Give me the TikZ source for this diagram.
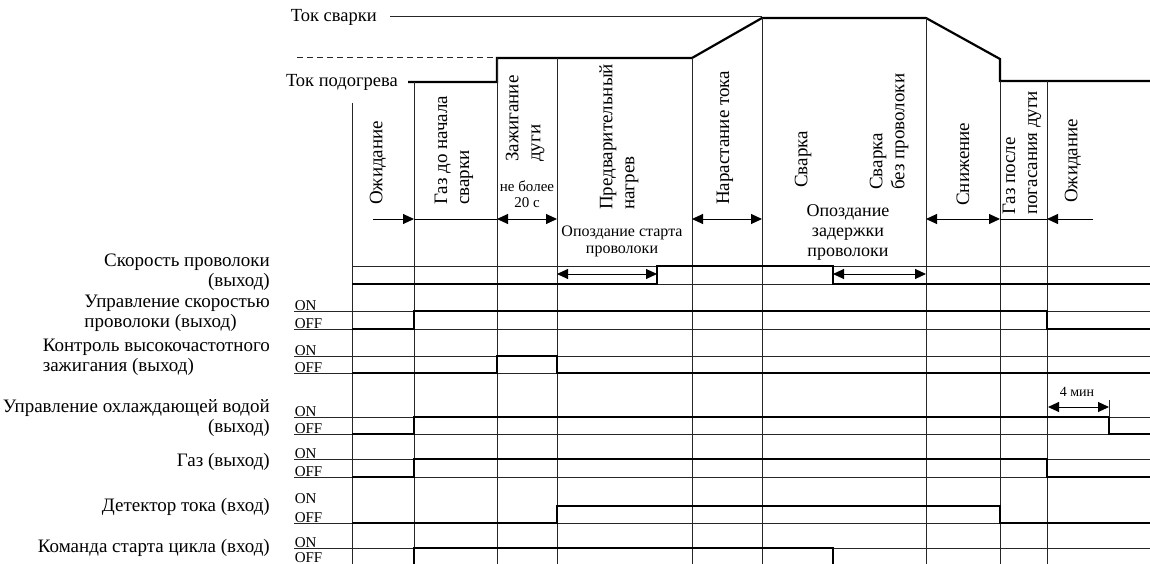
\documentclass[tikz,border=0pt]{standalone}
\usepackage{fontspec}
\setmainfont{Liberation Serif}
\usetikzlibrary{arrows.meta, positioning}

\tikzset{
  % reference / grid lines
  gridline/.style={line width=1pt, draw=black!85},
  % thick signal traces
  trace/.style={line width=2.2pt, draw=black},
  % dimension arrows
  dimarrow/.style={{Triangle[length=11pt,width=10pt]}-{Triangle[length=11pt,width=10pt]}, line width=1pt},
  endarrow/.style={-{Triangle[length=11pt,width=10pt]}, line width=1pt},
  % phase names (rotated)
  phase/.style={rotate=90, anchor=west, align=left, inner sep=0pt, font=\fontsize{19}{22}\selectfont},
  % signal names on the left
  siglabel/.style={anchor=east, inner sep=0pt, font=\fontsize{19}{20}\selectfont},
  % ON / OFF marks
  onoff/.style={anchor=south west, inner sep=0.6pt, font=\fontsize{15}{15}\selectfont},
  % small notes
  note/.style={align=center, inner sep=0pt, font=#1},
  note/.default={\fontsize{16}{17}\selectfont},
}

\begin{document}
\begin{tikzpicture}[x=1pt, y=-1pt]
  \useasboundingbox (0,0) rectangle (1150,564);

  % current levels
  \node[siglabel, font=\fontsize{18.5}{20}\selectfont] (weldlbl) at (377,17) {Ток сварки};
  \node[siglabel, font=\fontsize{18.5}{20}\selectfont] (heatlbl) at (398,82) {Ток подогрева};
  \draw[gridline] (weldlbl.east) ++(13,0) coordinate (w0) -- (762,17);
  \draw[gridline, dashed, dash pattern=on 6pt off 4pt] (297,58) -- (497,58);
  \draw[trace] (408,82) -- (497,82) -- (497,58) -- (692,58) -- (762,18)
    -- (926,18) -- (1000,59) -- (1000,81) -- (1150,81);

  % phase boundaries
  \foreach \x/\top in {352/103, 414/82, 497/58, 557/58, 692/58,
                       762/18, 926/18, 1000/81, 1047/81}
    \draw[gridline] (\x,\top) -- (\x,570);

  % phase names
  \node[phase] (ph1) at (378,205) {Ожидание};
  \node[phase] (ph2) at (454,205) {Газ до начала\\сварки};
  \node[phase] (ph3) at (525,162) {Зажигание\\дуги};
  \node[phase] (ph4) at (619,210) {Предварительный\\нагрев};
  \node[phase] (ph5) at (725,205) {Нарастание тока};
  \node[phase] (ph6) at (803,188) {Сварка};
  \node[phase] (ph7) at (889,190) {Сварка\\без проволоки};
  \node[phase] (ph8) at (963,206) {Снижение};
  \node[phase] (ph9) at (1022,215) {Газ после\\погасания дуги};
  \node[phase] (ph10) at (1073,203) {Ожидание};
  \node[note={\fontsize{15}{16}\selectfont}] (max20) at (527,194) {не более\\20 с};

  % phase duration arrows
  \draw[endarrow] (373,219) -- (414,219);
  \draw[line width=1pt] (414,219) -- (497,219);
  \draw[dimarrow] (497,219) -- (557,219);
  \draw[dimarrow] (692,219) -- (762,219);
  \draw[dimarrow] (926,219) -- (1000,219);
  \draw[line width=1pt] (1000,219) -- (1047,219);
  \draw[endarrow] (1093,219) -- (1047,219);

  % signal names
  \node[siglabel, align=right] (sWire) at (270,272) {Скорость проволоки\\(выход)};
  \node[siglabel, align=left] (sCtrl) at (270,313) {Управление скоростью\\проволоки (выход)};
  \node[siglabel, align=left] (sHF) at (270,357) {Контроль высокочастотного\\зажигания (выход)};
  \node[siglabel, align=right] (sCool) at (270,418) {Управление охлаждающей водой\\(выход)};
  \node[siglabel] (sGas) at (270,462) {Газ (выход)};
  \node[siglabel] (sDet) at (270,507) {Детектор тока (вход)};
  \node[siglabel] (sStart) at (270,548) {Команда старта цикла (вход)};

  % ON / OFF reference lines
  \draw[gridline] (352,266) -- (1150,266);
  \draw[gridline] (352,284) -- (1150,284);
  \foreach \y in {311,329,356,373,417,434,459,477,523,548,566}
    \draw[gridline] (294,\y) -- (1150,\y);
  \foreach \hi/\lo in {311/329, 356/373, 417/434, 459/477} {
    \node[onoff] (on\hi) at (294,\hi) {ON};
    \node[onoff] (off\lo) at (294,\lo) {OFF};
  }
  \node[onoff] (on506) at (294,504) {ON};
  \node[onoff] (off523) at (294,523) {OFF};
  \node[onoff] (on548) at (294,548) {ON};
  \node[onoff] (off566) at (294,563.5) {OFF};

  % signal traces
  \draw[trace] (352,284) -- (657,284) -- (657,266) -- (833,266) -- (833,284) -- (1150,284);
  \draw[trace] (352,329) -- (414,329) -- (414,311) -- (1047,311) -- (1047,329) -- (1150,329);
  \draw[trace] (352,373) -- (497,373) -- (497,356) -- (557,356) -- (557,373) -- (1150,373);
  \draw[trace] (352,434) -- (414,434) -- (414,417) -- (1109,417) -- (1109,434) -- (1150,434);
  \draw[trace] (352,477) -- (414,477) -- (414,459) -- (1047,459) -- (1047,477) -- (1150,477);
  \draw[trace] (352,523) -- (557,523) -- (557,506) -- (1000,506) -- (1000,523) -- (1150,523);
  \draw[trace] (414,566) -- (414,548) -- (833,548) -- (833,566) -- (1150,566);

  % wire delays
  \node[note] (startdly) at (622,241) {Опоздание старта\\проволоки};
  \draw[dimarrow] (557,274) -- (657,274);
  \node[note={\fontsize{18}{20}\selectfont}] (stopdly) at (848,232) {Опоздание\\задержки\\проволоки};
  \draw[dimarrow] (833,274) -- (926,274);

  % cooling water run-on
  \draw[gridline] (1109,400) -- (1109,417);
  \draw[dimarrow] (1048,407) -- (1109,407);
  \node[note={\fontsize{14}{15}\selectfont}] (runon) at (1077,392) {4 мин};
\end{tikzpicture}
\end{document}
